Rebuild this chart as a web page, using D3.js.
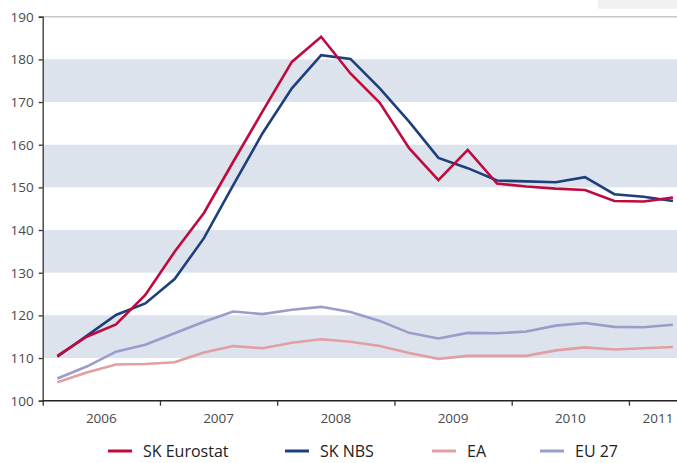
<!DOCTYPE html>
<html>
<head>
<meta charset="utf-8">
<script src="https://cdn.jsdelivr.net/npm/d3@7/dist/d3.min.js"></script>
<style>
  html, body { margin: 0; padding: 0; background: #fff; }
  svg { display: block; font-family: "Open Sans", "Noto Sans", sans-serif; }
</style>
</head>
<body>
<svg id="chart" width="677" height="463"></svg>
<script>
// Quarterly house price indices, 2006 Q1 – 2011 Q2
const years = ["2006", "2007", "2008", "2009", "2010", "2011"];
const quarters = d3.range(22); // 0 = 2006 Q1
const skEurostat = [110.5, 115.0, 117.9, 124.8, 134.9, 144.0, 156.0, 167.8, 179.4, 185.3, 176.7, 169.8,
                    159.2, 151.7, 158.8, 150.9, 150.2, 149.7, 149.4, 146.8, 146.7, 147.6];
const skNbs = [110.3, 115.2, 120.1, 122.8, 128.5, 138.1, 150.5, 162.7, 173.2, 181.0, 180.1, 173.2,
               165.4, 156.9, 154.5, 151.6, 151.4, 151.2, 152.4, 148.4, 147.8, 146.8];
const ea = [104.3, 106.6, 108.5, 108.6, 109.0, 111.3, 112.8, 112.3, 113.6, 114.4, 113.8, 112.8,
            111.2, 109.8, 110.5, 110.5, 110.5, 111.8, 112.5, 112.0, 112.3, 112.6];
const eu27 = [105.2, 108.0, 111.5, 113.1, 115.8, 118.5, 120.9, 120.3, 121.3, 122.0, 120.8, 118.7,
              115.9, 114.6, 115.9, 115.8, 116.2, 117.6, 118.2, 117.3, 117.2, 117.8];
const yTicks = [100, 110, 120, 130, 140, 150, 160, 170, 180, 190];
const bands = [[110, 120], [130, 140], [150, 160], [170, 180]];

const seriesList = [
  { name: "SK Eurostat", values: skEurostat, color: "#be0a3f" },
  { name: "SK NBS", values: skNbs, color: "#1d3f7c" },
  { name: "EA", values: ea, color: "#e29fa3" },
  { name: "EU 27", values: eu27, color: "#9a9dc9" }
];

const svg = d3.select("#chart");
const left = 42.7;
const yearWidth = 117.25;

// x: quarters counted from the start of 2006; the last year runs past the frame
const x = d3.scaleLinear().domain([0, 24]).range([left, left + yearWidth * 6]);
const y = d3.scaleLinear().domain([100, 190]).range([400.7, 16.7]);
const right = 677;

// shaded bands
svg.append("g").selectAll("rect").data(bands).join("rect")
  .attr("x", left).attr("width", right - left)
  .attr("y", d => y(d[1])).attr("height", d => y(d[0]) - y(d[1]))
  .attr("fill", "#dde3ed");

// top grid line
svg.append("line")
  .attr("x1", left).attr("x2", right)
  .attr("y1", y(190)).attr("y2", y(190))
  .attr("stroke", "#c8c8c8").attr("stroke-width", 1.5);

// small box in the top right corner
svg.append("rect").attr("x", 598).attr("y", 0).attr("width", 79).attr("height", 8.7)
  .attr("fill", "#eff0f2");

// y axis
const yAxis = d3.axisLeft(y).tickValues(yTicks).tickSize(4).tickPadding(5).tickFormat(d3.format("d"));
const gy = svg.append("g").attr("transform", `translate(${left},0)`).call(yAxis);
gy.select(".domain").attr("stroke", "#333").attr("stroke-width", 1.3);
gy.selectAll(".tick line").attr("stroke", "#333").attr("stroke-width", 1.3);
gy.selectAll(".tick text").attr("fill", "#4a4a4a").style("font-size", "13.5px")
  .style("font-family", "'Open Sans', sans-serif");

// x axis: ticks at year boundaries, labels at year centres
const xAxis = d3.axisBottom(x).tickValues(d3.range(0, 24, 4)).tickSize(5).tickFormat("");
const gx = svg.append("g").attr("transform", `translate(0,${y(100)})`).call(xAxis);
gx.select(".domain").attr("d", `M${left},0H${right}`).attr("stroke", "#222").attr("stroke-width", 1.5);
gx.selectAll(".tick line").attr("stroke", "#333").attr("stroke-width", 1.3);

svg.append("g").selectAll("text").data(years).join("text")
  .attr("x", (d, i) => Math.min(x(i * 4 + 2), 658))
  .attr("y", 423)
  .attr("text-anchor", "middle")
  .attr("fill", "#4a4a4a")
  .style("font-size", "13.5px")
  .text(d => d);

// lines
const line = d3.line().x((d, i) => x(quarters[i] + 0.5)).y(d => y(d));
const drawOrder = [seriesList[2], seriesList[3], seriesList[1], seriesList[0]];
svg.append("g").selectAll("path").data(drawOrder).join("path")
  .attr("d", d => line(d.values))
  .attr("fill", "none")
  .attr("stroke", d => d.color)
  .attr("stroke-width", 2.6)
  .attr("stroke-linejoin", "miter");

// legend
const legendX = [108, 285, 432, 540];
const lg = svg.append("g").selectAll("g").data(seriesList).join("g")
  .attr("transform", (d, i) => `translate(${legendX[i]},451)`);
lg.append("line").attr("x1", 0).attr("x2", 24).attr("y1", 0).attr("y2", 0)
  .attr("stroke", d => d.color).attr("stroke-width", 3);
lg.append("text").attr("x", 35).attr("y", 0).attr("dy", "0.35em")
  .attr("fill", "#222").style("font-size", "16px")
  .text(d => d.name);
</script>
</body>
</html>
